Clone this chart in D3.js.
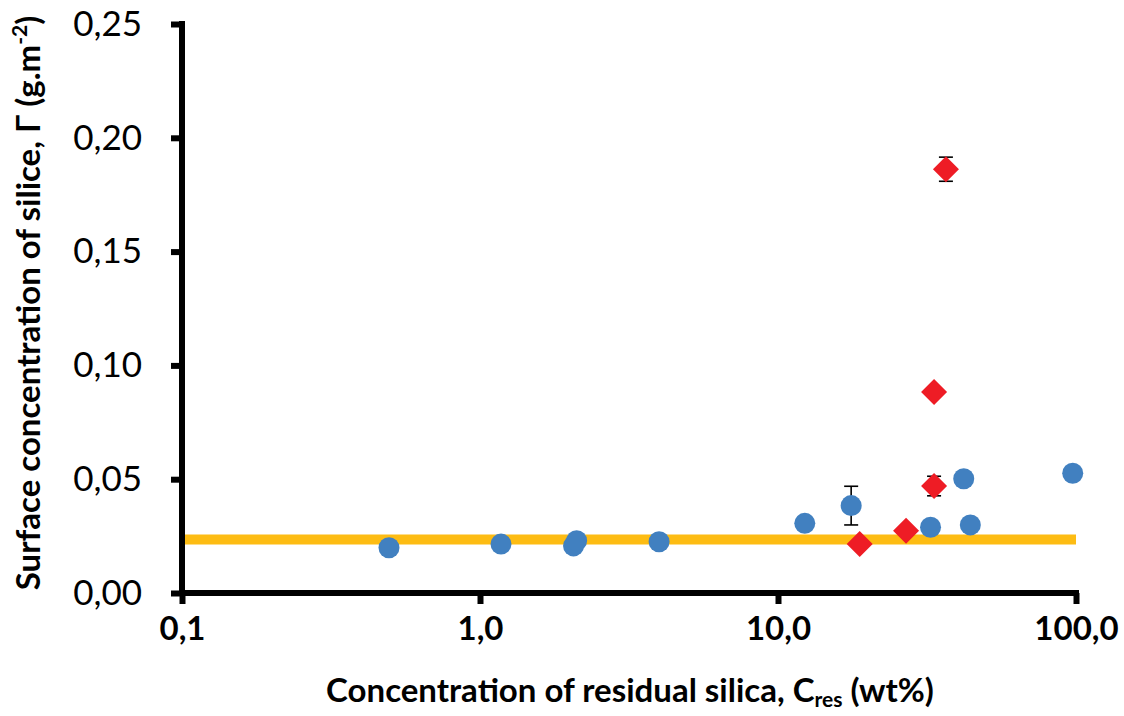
<!DOCTYPE html>
<html><head><meta charset="utf-8">
<script src="https://cdn.jsdelivr.net/npm/d3@7"></script>
<style>body{margin:0;background:#fff}svg{display:block}</style>
</head><body>
<script>
// Data
const blueX   = [0.495, 1.176, 2.06, 2.11, 3.99, 12.3, 17.6, 32.5, 42.0, 44.2, 97.5];
const blueY   = [0.0199, 0.0215, 0.0207, 0.0230, 0.0225, 0.0306, 0.0384, 0.0289, 0.0502, 0.0299, 0.0526];
const blueErr = [0, 0, 0, 0, 0, 0, 0.0085, 0, 0, 0, 0];
const redX    = [18.8, 26.9, 33.4, 33.4, 36.6];
const redY    = [0.0215, 0.0274, 0.0470, 0.0883, 0.1862];
const redErr  = [0, 0, 0.0043, 0, 0.0053];
const refLineX = [0.1, 100];
const refLineY = 0.0235;
const xTicks = [0.1, 1, 10, 100];
const xTickLabels = ["0,1", "1,0", "10,0", "100,0"];
const yTicks = [0, 0.05, 0.10, 0.15, 0.20, 0.25];
const yTickLabels = ["0,00", "0,05", "0,10", "0,15", "0,20", "0,25"];

const W = 1124, H = 716;
const FONT = "Lato, 'Open Sans', sans-serif";
const svg = d3.select("body").append("svg").attr("width", W).attr("height", H);
const x = d3.scaleLog().domain([0.1, 100]).range([182, 1076]);
const y = d3.scaleLinear().domain([0, 0.25]).range([593, 24]);

// reference line
svg.append("line")
  .attr("x1", x(refLineX[0])).attr("x2", x(refLineX[1]))
  .attr("y1", y(refLineY)).attr("y2", y(refLineY))
  .attr("stroke", "#FDBC13").attr("stroke-width", 10);

// axes
const xAxis = d3.axisBottom(x).tickValues(xTicks).tickFormat((d, i) => xTickLabels[i]).tickSize(11).tickSizeOuter(0).tickPadding(13);
const gx = svg.append("g").attr("transform", "translate(0,593)").call(xAxis);
gx.select(".domain").attr("stroke", "#000").attr("stroke-width", 6).attr("d", `M${x(0.1)-3},0H${x(100)+3}`);
gx.selectAll(".tick line").attr("stroke", "#000").attr("stroke-width", 6);
gx.selectAll(".tick text").attr("font-family", FONT).attr("font-weight", "bold").attr("font-size", 33).attr("fill", "#000");

const yAxis = d3.axisLeft(y).tickValues(yTicks).tickFormat((d, i) => yTickLabels[i]).tickSize(11).tickSizeOuter(0).tickPadding(29);
const gy = svg.append("g").attr("transform", "translate(182,0)").call(yAxis);
gy.select(".domain").attr("stroke", "#000").attr("stroke-width", 6).attr("d", `M0,${y(0.25)-3}V${y(0)+3}`);
gy.selectAll(".tick line").attr("stroke", "#000").attr("stroke-width", 6);
gy.selectAll(".tick text").attr("font-family", FONT).attr("font-size", 35).attr("fill", "#000");

// error bars
function errBars(xs, ys, es) {
  const g = svg.append("g").attr("stroke", "#000").attr("stroke-width", 1.6);
  xs.forEach((xv, i) => {
    if (!es[i]) return;
    const cx = x(xv), y1 = y(ys[i] + es[i]), y2 = y(ys[i] - es[i]);
    g.append("line").attr("x1", cx).attr("x2", cx).attr("y1", y1).attr("y2", y2);
    g.append("line").attr("x1", cx - 7).attr("x2", cx + 7).attr("y1", y1).attr("y2", y1);
    g.append("line").attr("x1", cx - 7).attr("x2", cx + 7).attr("y1", y2).attr("y2", y2);
  });
}
errBars(blueX, blueY, blueErr);
errBars(redX, redY, redErr);

// blue circles
svg.append("g").selectAll("circle").data(blueX).join("circle")
  .attr("cx", d => x(d)).attr("cy", (d, i) => y(blueY[i])).attr("r", 10.5)
  .attr("fill", "#4180C0");

// red diamonds
svg.append("g").selectAll("path").data(redX).join("path")
  .attr("d", d3.symbol().type(d3.symbolSquare).size(338))
  .attr("transform", (d, i) => `translate(${x(d)},${y(redY[i])}) rotate(45)`)
  .attr("fill", "#EE1C25");

// axis titles
const xt = svg.append("text").attr("x", 630).attr("y", 702).attr("text-anchor", "middle")
  .attr("font-family", FONT).attr("font-weight", "bold").attr("font-size", 33).attr("fill", "#000");
xt.append("tspan").text("Concentration of residual silica, C");
xt.append("tspan").attr("font-size", 21).attr("dy", 5).text("res");
xt.append("tspan").attr("dy", -5).text(" (wt%)");

const yt = svg.append("text").attr("transform", "translate(40,303) rotate(-90)").attr("text-anchor", "middle")
  .attr("font-family", FONT).attr("font-weight", "bold").attr("font-size", 33).attr("fill", "#000");
yt.append("tspan").text("Surface concentration of silice, Γ (g.m");
yt.append("tspan").attr("font-size", 21).attr("dy", -13).text("-2");
yt.append("tspan").attr("dy", 13).text(")");
</script>
</body></html>
